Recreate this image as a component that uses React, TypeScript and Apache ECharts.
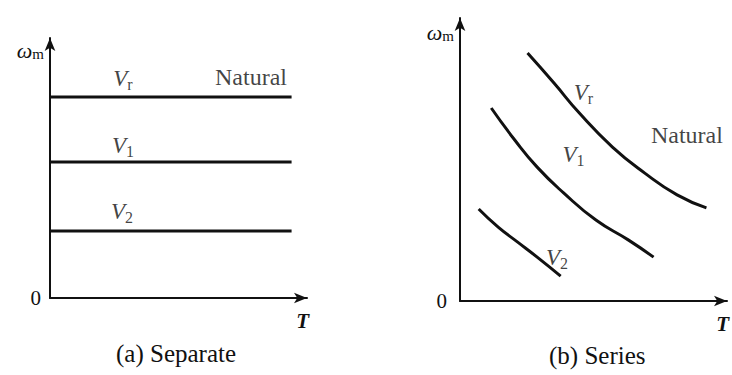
import React, { useEffect, useRef } from "react";
import * as echarts from "echarts";

// Panel (a): separately excited — constant-speed lines
const sepTorque = [0, 9.4];
const sepVr = [7.73, 7.73];
const sepV1 = [5.23, 5.23];
const sepV2 = [2.58, 2.58];

// Panel (b): series — hyperbolic speed/torque curves
const serVr: [number, number][] = [
  [2.53, 8.76], [3.52, 7.7], [4.47, 6.64], [5.71, 5.44], [6.92, 4.52], [8.13, 3.75], [9.23, 3.29],
];
const serV1: [number, number][] = [
  [1.17, 6.82], [2.05, 5.69], [2.89, 4.73], [3.88, 3.82], [5.09, 2.86], [6.3, 2.16], [7.25, 1.55],
];
const serV2: [number, number][] = [
  [0.7, 3.25], [1.43, 2.61], [2.16, 2.08], [2.89, 1.55], [3.77, 0.88],
];

// Curve labels: [x, y, text]
const sepLabels: [number, number, string][] = [
  [2.84, 8.46, "{v|V}{s|r}"],
  [2.84, 5.88, "{v|V}{s|1}"],
  [2.8, 3.31, "{v|V}{s|2}"],
  [7.82, 8.5, "{n|Natural}"],
];
const serLabels: [number, number, string][] = [
  [4.62, 7.35, "{v|V}{s|r}"],
  [4.25, 5.19, "{v|V}{s|1}"],
  [3.63, 1.55, "{v|V}{s|2}"],
  [8.5, 5.87, "{n|Natural}"],
];

const captions = ["(a) Separate", "(b) Series"];

const SERIF = "Times New Roman, Liberation Serif, serif";
const INK = "#111111";

const rich = {
  v: { fontFamily: SERIF, fontStyle: "italic", fontSize: 23, color: INK },
  s: { fontFamily: SERIF, fontStyle: "normal", fontSize: 16, color: INK, padding: [12, 0, 0, 0] },
  n: { fontFamily: SERIF, fontSize: 24, color: INK },
  w: { fontFamily: SERIF, fontStyle: "italic", fontSize: 22, color: INK },
  m: { fontFamily: SERIF, fontSize: 15, color: INK, padding: [8, 0, 0, 0] },
  t: { fontFamily: SERIF, fontStyle: "italic", fontWeight: "bold", fontSize: 21, color: INK },
};

function xAxisFor(gridIndex: number) {
  return {
    type: "value",
    gridIndex,
    min: 0,
    max: 10,
    name: "{t|T}",
    nameLocation: "end",
    nameGap: 2,
    nameTextStyle: { rich, align: "right", verticalAlign: "top", padding: [12, 0, 0, 0] },
    axisLine: { lineStyle: { color: INK, width: 2 }, symbol: ["none", "arrow"], symbolSize: [8, 13] },
    axisTick: { show: false },
    axisLabel: { show: false },
    splitLine: { show: false },
  };
}

function yAxisFor(gridIndex: number, gap: number, zeroMargin: number, zeroDrop: number) {
  return {
    type: "value",
    gridIndex,
    min: 0,
    max: 10,
    interval: 10,
    name: "{w|ω}{m|m}",
    nameLocation: "end",
    nameGap: gap,
    nameTextStyle: { rich, align: "right", verticalAlign: "middle", padding: [0, 6, 0, 0] },
    axisLine: { show: true, lineStyle: { color: INK, width: 2 }, symbol: ["none", "arrow"], symbolSize: [8, 13] },
    axisTick: { show: false },
    axisLabel: {
      formatter: (v: number) => (v === 0 ? "0" : ""),
      fontFamily: SERIF,
      fontSize: 21,
      color: INK,
      margin: zeroMargin,
      padding: [zeroDrop, 0, 0, 0],
    },
    splitLine: { show: false },
  };
}

function curve(data: [number, number][], idx: number) {
  return {
    type: "line",
    xAxisIndex: idx,
    yAxisIndex: idx,
    data,
    smooth: true,
    showSymbol: false,
    lineStyle: { color: INK, width: 3 },
  };
}

function labels(items: [number, number, string][], idx: number) {
  return {
    type: "scatter",
    xAxisIndex: idx,
    yAxisIndex: idx,
    symbolSize: 0,
    data: items.map(([x, y, t]) => ({ value: [x, y], name: t })),
    label: {
      show: true,
      position: "inside",
      formatter: (p: any) => p.name,
      fontFamily: SERIF,
      rich,
    },
  };
}

export default function App() {
  const ref = useRef<HTMLDivElement>(null);

  useEffect(() => {
    if (!ref.current) return;
    const chart = echarts.init(ref.current, undefined, { renderer: "svg" });
    chart.setOption({
      animation: false,
      backgroundColor: "#ffffff",
      textStyle: { fontFamily: SERIF },
      grid: [
        { left: 50, top: 38, width: 257, height: 260 },
        { left: 460, top: 18, width: 273, height: 283 },
      ],
      xAxis: [xAxisFor(0), xAxisFor(1)],
      yAxis: [yAxisFor(0, -12, 9, 8), yAxisFor(1, -14, 13, 12)],
      series: [
        curve(sepTorque.map((x, i) => [x, sepVr[i]]) as [number, number][], 0),
        curve(sepTorque.map((x, i) => [x, sepV1[i]]) as [number, number][], 0),
        curve(sepTorque.map((x, i) => [x, sepV2[i]]) as [number, number][], 0),
        labels(sepLabels, 0),
        curve(serVr, 1),
        curve(serV1, 1),
        curve(serV2, 1),
        labels(serLabels, 1),
      ],
      graphic: [
        {
          type: "text",
          left: 116,
          top: 341,
          style: { text: captions[0], font: `25px ${SERIF}`, fill: INK },
        },
        {
          type: "text",
          left: 549,
          top: 343,
          style: { text: captions[1], font: `25px ${SERIF}`, fill: INK },
        },
      ],
    });
    return () => chart.dispose();
  }, []);

  return (
    <div
      ref={ref}
      style={{ position: "fixed", left: 0, top: 0, width: 732, height: 375 }}
    />
  );
}
